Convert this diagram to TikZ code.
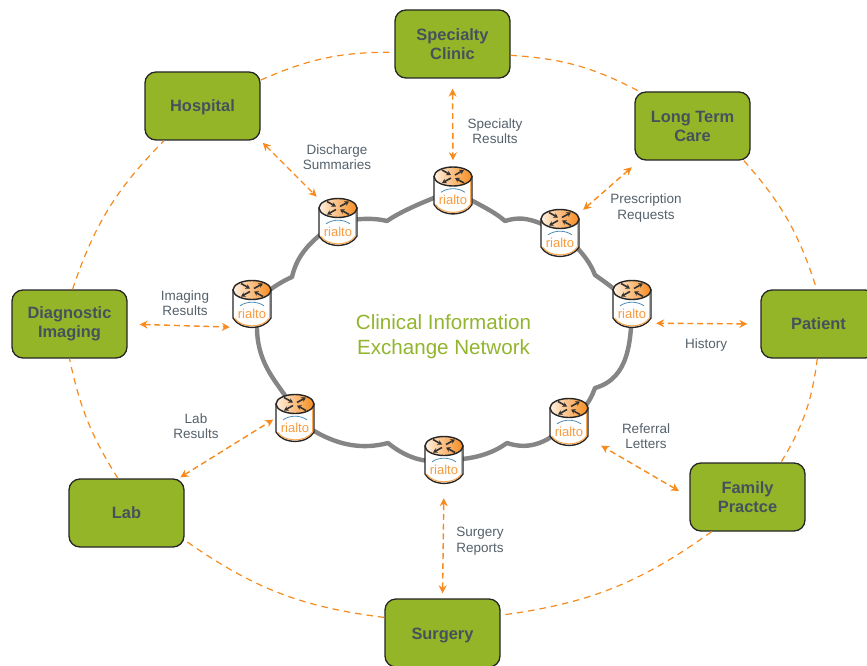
\documentclass[tikz,border=0pt]{standalone}
\usepackage{fontspec}
\setmainfont{Liberation Sans}
\usetikzlibrary{arrows.meta}
\definecolor{boxgreen}{HTML}{95B528}
\definecolor{boxtext}{HTML}{44525C}
\definecolor{labeltext}{HTML}{55616B}
\definecolor{linkorange}{HTML}{F78B1E}
\definecolor{titlegreen}{HTML}{93B52E}
\definecolor{cloudgray}{HTML}{858585}
\definecolor{archblue}{HTML}{4A8DB5}
\tikzset{
  x=1pt,y=-1pt,
  sitebox/.style={draw=black!85,line width=1.3pt,fill=boxgreen,rounded corners=11pt,minimum width=115pt,minimum height=68pt,inner sep=0pt,align=center,text=boxtext,font=\fontsize{16.4}{19}\selectfont\bfseries},
  routerbox/.style={minimum width=38pt,minimum height=46pt,inner sep=0pt},
  lbl/.style={text=labeltext,align=center,font=\fontsize{13.5}{15.5}\selectfont,inner sep=0pt},
  link/.style={draw=linkorange,line width=1.4pt,dash pattern=on 6pt off 3.8pt,{Stealth[length=8pt,width=8pt]}-{Stealth[length=8pt,width=8pt]}},
  ring/.style={draw=linkorange,line width=1.2pt,dash pattern=on 6.5pt off 5pt},
  cloudline/.style={draw=cloudgray,line width=4.4pt,line join=round,line cap=round},
  iconarrow/.style={draw=black!80,line width=1.6pt,-{Stealth[length=4.5pt,width=5pt]}},
}
\newcommand{\lowered}[2]{\raisebox{-#1}[\height][\depth]{#2}}
\newcommand{\drawrouter}[1]{%
\begin{scope}[shift={(#1.center)}]
  \path[fill=white,draw=black!85,line width=1.4pt] (-19,-14) -- (-19,14) .. controls (-12,26.5) and (12,26.5) .. (19,14) -- (19,-14) -- cycle;
  \draw[linkorange!75,line width=1.1pt] (-17.5,14) .. controls (-11,24.5) and (11,24.5) .. (17.5,14);
  \draw[linkorange!75,line width=1.1pt] (17.7,-10) -- (17.7,14);
  \path[left color=orange!12,right color=linkorange,draw=black!85,line width=1.4pt] (0,-14) ellipse [x radius=19pt,y radius=9.5pt];
  \draw[iconarrow] (-11,-20.5) -- (-2,-15.5);
  \draw[iconarrow] (11,-7.5) -- (2,-12.5);
  \draw[iconarrow] (2,-15.5) -- (11,-20.5);
  \draw[iconarrow] (-2,-12.5) -- (-11,-7.5);
  \draw[archblue,line width=0.8pt] (-12,1.8) .. controls (-5,-3) and (5,-3) .. (12,1.8);
  \node[text=linkorange!85,inner sep=0pt,font=\fontsize{13}{14}\selectfont] (#1text) at (0,9.5) {rialto};
\end{scope}}
\begin{document}
\begin{tikzpicture}
\useasboundingbox (0,0) rectangle (867,666);
\clip (0,0) rectangle (867,666);
\fill[white] (0,0) rectangle (867,666);

\node[sitebox] (spec) at (452.5,44) {Specialty\\Clinic};
\node[sitebox] (ltc) at (692.5,126) {Long Term\\Care};
\node[sitebox] (pat) at (818.5,324) {Patient};
\node[sitebox] (fam) at (747.5,497) {Family\\Practce};
\node[sitebox] (surg) at (442.5,633) {\lowered{2.5pt}{Surgery}};
\node[sitebox] (lab) at (126.5,513) {Lab};
\node[sitebox] (diag) at (69.5,324) {Diagnostic\\Imaging};
\node[sitebox] (hosp) at (202.5,106) {\lowered{1.5pt}{Hospital}};

\node[routerbox] (r1) at (453,190.5) {};
\node[routerbox] (r2) at (560,233) {};
\node[routerbox] (r3) at (632,304) {};
\node[routerbox] (r4) at (569,422) {};
\node[routerbox] (r5) at (444,460) {};
\node[routerbox] (r6) at (295,418) {};
\node[routerbox] (r7) at (252,304) {};
\node[routerbox] (r8) at (338,222) {};

% outer ring
\draw[ring] (hosp.24) to[bend left=12] (spec.188);
\draw[ring] (spec.-11) to[bend left=12] (ltc.147);
\draw[ring] (ltc.-34) to[bend left=12] (pat.93);
\draw[ring] (pat.-92) to[bend left=12] (fam.46);
\draw[ring] (fam.224) to[bend left=14] (surg.17);
\draw[ring] (surg.165) to[bend left=14] (lab.-25);
\draw[ring] (lab.104) to[bend left=10] (diag.-90);
\draw[ring] (diag.85) to[bend left=13] (hosp.222);

% cloud
\draw[cloudline] (r1.center) .. controls (480,205) and (495,212) .. (505,221)
  .. controls (518,217) and (530,216) .. (r2.center);
\draw[cloudline] (r2.center) .. controls (580,248) and (590,262) .. (595,275)
  .. controls (602,280) and (610,285) .. (r3.center);
\draw[cloudline] (r3.center) .. controls (631,340) and (630,378) .. (595,388)
  .. controls (592,395) and (590,405) .. (r4.center);
\draw[cloudline] (r4.center) .. controls (545,447) and (525,449) .. (507,443)
  .. controls (497,450) and (480,460) .. (r5.center);
\draw[cloudline] (r5.center) .. controls (425,464) and (405,457) .. (388,443)
  .. controls (365,449) and (335,449) .. (r6.center);
\draw[cloudline] (r6.center) .. controls (292,392) and (256,375) .. (257,325) -- (r7.center);
\draw[cloudline] (r7.center) .. controls (262,295) and (278,283) .. (292,277)
  .. controls (296,260) and (305,243) .. (r8.center);
\draw[cloudline] (r8.center) .. controls (360,218) and (375,218) .. (387,221)
  .. controls (400,212) and (420,203) .. (r1.center);

\drawrouter{r1}
\drawrouter{r2}
\drawrouter{r3}
\drawrouter{r4}
\drawrouter{r5}
\drawrouter{r6}
\drawrouter{r7}
\drawrouter{r8}

% exchanges
\draw[link,shorten <=10pt,shorten >=7pt] (spec.south) -- (r1.north);
\draw[link,shorten <=10pt] ([xshift=5pt]ltc.south west) -- ([xshift=4pt]r2.north east);
\draw[link,shorten <=13pt,shorten >=5pt] (pat.west) -- (r3.-45);
\draw[link,shorten <=12pt,shorten >=15pt] (fam.west) -- (r4.-40);
\draw[link,shorten <=5pt,shorten >=15pt] (surg.north) -- (r5.south);
\draw[link,shorten <=2pt,shorten >=3pt] ([xshift=-6pt]lab.north east) -- (r6.west);
\draw[link,shorten <=12pt,shorten >=3pt] (diag.east) -- (r7.south west);
\draw[link,shorten <=3pt,shorten >=3pt] (hosp.south east) -- (r8.north west);

% labels
\node[lbl] (lspec) at (495,131) {Specialty\\Results};
\node[lbl] (ldis) at (337,157) {Discharge\\Summaries};
\node[lbl] (lpres) at (646,208) {Prescription\\Requests};
\node[lbl] (limg) at (185,303) {Imaging\\Results};
\node[lbl] (lhist) at (706,345) {History};
\node[lbl] (lref) at (646,436) {Referral\\Letters};
\node[lbl] (lsurg) at (480,541) {Surgery\\Reports};
\node[lbl] (llab) at (196,426) {Lab\\Results};
\node[text=titlegreen,align=center,inner sep=0pt,font=\fontsize{20.6}{25}\selectfont] (title) at (443.5,337) {Clinical Information\\Exchange Network};
\end{tikzpicture}
\end{document}
